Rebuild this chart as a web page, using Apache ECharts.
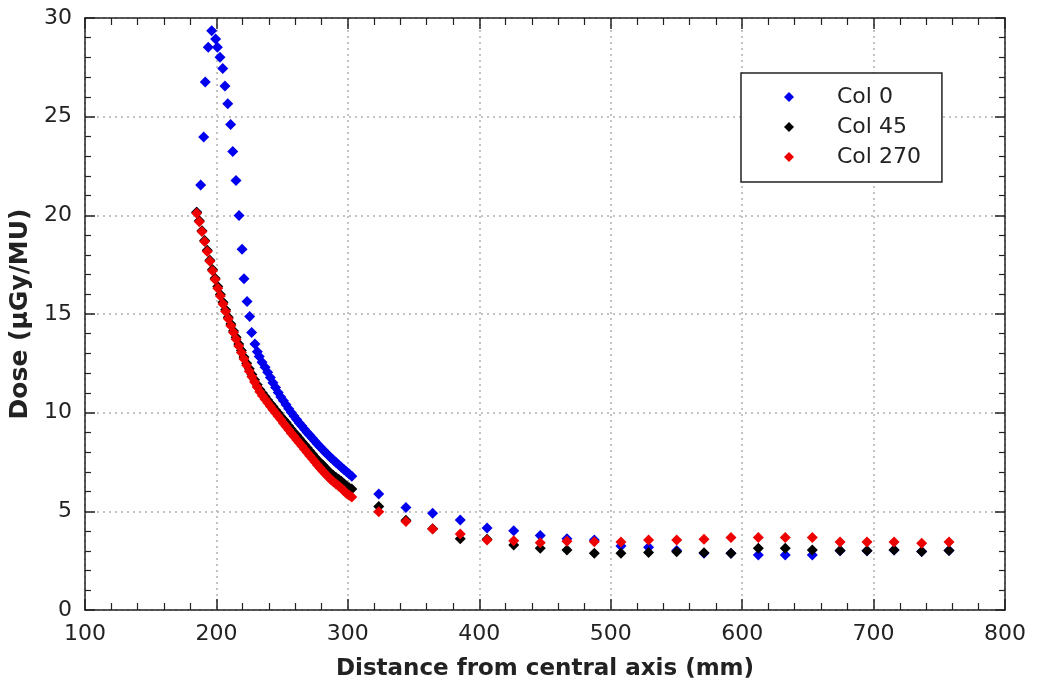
<!DOCTYPE html>
<html>
<head>
<meta charset="utf-8">
<script src="https://cdn.jsdelivr.net/npm/echarts@6/dist/echarts.min.js"></script>
<style>
html,body{margin:0;padding:0;background:#fff;}
#chart{width:1046px;height:691px;}
</style>
</head>
<body>
<div id="chart"></div>
<script>
// ---- data ----
const seriesNames = ['Col 0', 'Col 45', 'Col 270'];

const col0X = [185, 188, 190.3, 191.5, 193.8, 196.4,
  199.4, 200.7, 202.7, 204.8, 206.5, 208.6, 210.8, 212.4, 214.9, 217.2, 219.5, 221, 223.3, 225.3, 226.8, 229.3, 231.1, 232.6, 234.7,
  237, 239, 241, 243, 245, 247, 249, 251, 253, 255, 257, 259, 261, 263, 265, 267, 269, 271, 273, 275, 277, 279, 281, 283, 285, 287, 289, 291, 293, 295, 297, 299, 301, 303,
  323.5, 344.2, 364.5, 385.5, 405.9, 426.2, 446.4, 466.7, 487.5, 507.8, 528.8, 550.2, 571, 591.5, 612.3, 632.8, 653.4, 674.5, 695, 715.6, 736.6, 757.4];
const col0Y = [20.15, 21.54, 23.97, 26.76, 28.52, 29.36,
  28.93, 28.52, 28.01, 27.44, 26.56, 25.65, 24.6, 23.23, 21.76, 19.99, 18.28, 16.79, 15.63, 14.87, 14.06, 13.48, 13.09, 12.84, 12.55,
  12.3, 12.05, 11.78, 11.52, 11.27, 11.02, 10.8, 10.6, 10.4, 10.2, 10.01, 9.83, 9.65, 9.48, 9.32, 9.16, 9.0, 8.85, 8.7, 8.55, 8.4, 8.26, 8.12, 7.98, 7.85, 7.72, 7.6, 7.48, 7.36, 7.24, 7.12, 7.0, 6.89, 6.78,
  5.88, 5.2, 4.9, 4.56, 4.16, 4.02, 3.78, 3.61, 3.55, 3.24, 3.18, 3.02, 2.88, 2.87, 2.79, 2.79, 2.79, 3.0, 3.0, 3.04, 2.96, 3.01];

const col45X = [185, 187, 189, 191, 193, 195, 197, 199, 201, 203, 205, 207, 209, 211, 213, 215, 217, 219, 221, 223, 225, 227, 229, 231, 233, 235, 237, 239, 241, 243, 245, 247, 249, 251, 253, 255, 257, 259, 261, 263, 265, 267, 269, 271, 273, 275, 277, 279, 281, 283, 285, 287, 289, 291, 293, 295, 297, 299, 301, 303,
  323.5, 344.2, 364.5, 385.5, 405.9, 426.2, 446.4, 466.7, 487.5, 507.8, 528.8, 550.2, 571, 591.5, 612.3, 632.8, 653.4, 674.5, 695, 715.6, 736.6, 757.4];
const col45Y = [20.15, 19.72, 19.22, 18.72, 18.23, 17.73, 17.25, 16.81, 16.39, 15.99, 15.59, 15.21, 14.84, 14.49, 14.14, 13.82, 13.48, 13.15, 12.82, 12.5, 12.22, 11.94, 11.67, 11.42, 11.18, 11.0, 10.82, 10.64, 10.47, 10.31, 10.14, 9.98, 9.81, 9.66, 9.5, 9.33, 9.16, 9.0, 8.85, 8.69, 8.53, 8.38, 8.22, 8.06, 7.9, 7.74, 7.59, 7.46, 7.33, 7.19, 7.05, 6.93, 6.82, 6.72, 6.62, 6.53, 6.4, 6.29, 6.19, 6.13,
  5.24, 4.55, 4.12, 3.61, 3.58, 3.29, 3.13, 3.04, 2.87, 2.87, 2.91, 2.95, 2.9, 2.88, 3.13, 3.13, 3.04, 3.01, 3.0, 3.04, 2.96, 3.01];

const col270X = [185, 187, 189, 191, 193, 195, 197, 199, 201, 203, 205, 207, 209, 211, 213, 215, 217, 219, 221, 223, 225, 227, 229, 231, 233, 235, 237, 239, 241, 243, 245, 247, 249, 251, 253, 255, 257, 259, 261, 263, 265, 267, 269, 271, 273, 275, 277, 279, 281, 283, 285, 287, 289, 291, 293, 295, 297, 299, 301, 303,
  323.5, 344.2, 364.5, 385.5, 405.9, 426.2, 446.4, 466.7, 487.5, 507.8, 528.8, 550.2, 571, 591.5, 612.3, 632.8, 653.4, 674.5, 695, 715.6, 736.6, 757.4];
const col270Y = [20.1, 19.68, 19.18, 18.68, 18.17, 17.67, 17.19, 16.75, 16.31, 15.91, 15.51, 15.13, 14.76, 14.41, 14.06, 13.72, 13.38, 13.05, 12.72, 12.4, 12.1, 11.82, 11.55, 11.3, 11.06, 10.86, 10.68, 10.5, 10.33, 10.15, 9.98, 9.82, 9.65, 9.46, 9.3, 9.13, 8.96, 8.8, 8.63, 8.47, 8.31, 8.14, 7.98, 7.82, 7.66, 7.5, 7.33, 7.18, 7.03, 6.89, 6.75, 6.61, 6.5, 6.38, 6.28, 6.17, 6.04, 5.91, 5.81, 5.73,
  4.98, 4.48, 4.1, 3.85, 3.55, 3.51, 3.41, 3.48, 3.46, 3.45, 3.55, 3.55, 3.58, 3.68, 3.67, 3.67, 3.67, 3.45, 3.45, 3.45, 3.38, 3.45];

const xTicks = {min: 100, max: 800, step: 100};
const yTicks = {min: 0, max: 30, step: 5};

// ---- chart ----
function zip(xs, ys) { return xs.map((x, i) => [x, ys[i]]); }
const colors = ['#0000ee', '#000000', '#ee0000'];
const font = 'DejaVu Sans, Verdana, sans-serif';
const axisColor = '#222';

function makeX(pos, main) {
  return {
    type: 'value', position: pos, min: xTicks.min, max: xTicks.max, interval: xTicks.step,
    axisLine: {show: true, onZero: false, lineStyle: {color: axisColor, width: 1.5}},
    axisTick: {show: true, inside: true, length: 11, lineStyle: {color: axisColor, width: 1.5}},
    minorTick: {show: true, splitNumber: 5, length: 7, lineStyle: {color: axisColor, width: 1.2}},
    splitLine: {show: main, lineStyle: {type: [2, 4], color: '#b0b0b0', width: 1.5}},
    minorSplitLine: {show: false},
    axisLabel: {show: main, fontSize: 22, color: '#222', margin: 13, fontFamily: font},
    name: main ? 'Distance from central axis (mm)' : '',
    nameLocation: 'middle', nameGap: 48,
    nameTextStyle: {fontSize: 23, fontWeight: 'bold', color: '#222', fontFamily: font}
  };
}
function makeY(pos, main) {
  return {
    type: 'value', position: pos, min: yTicks.min, max: yTicks.max, interval: yTicks.step,
    axisLine: {show: true, onZero: false, lineStyle: {color: axisColor, width: 1.5}},
    axisTick: {show: true, inside: true, length: 10, lineStyle: {color: axisColor, width: 1.5}},
    minorTick: {show: true, splitNumber: 5, length: 6, lineStyle: {color: axisColor, width: 1.2}},
    splitLine: {show: main, lineStyle: {type: [2, 4], color: '#b0b0b0', width: 1.5}},
    minorSplitLine: {show: false},
    axisLabel: {show: main, fontSize: 22, color: '#222', margin: 13, fontFamily: font},
    name: main ? 'Dose (µGy/MU)' : '',
    nameLocation: 'middle', nameGap: 47,
    nameTextStyle: {fontSize: 25, fontWeight: 'bold', color: '#222', fontFamily: font}
  };
}

const chart = echarts.init(document.getElementById('chart'), null, {renderer: 'canvas'});
chart.setOption({
  animation: false,
  backgroundColor: '#fff',
  grid: {left: 85, right: 41, top: 18, bottom: 81, containLabel: false},
  xAxis: [makeX('bottom', true), makeX('top', false)],
  yAxis: [makeY('left', true), makeY('right', false)],
  legend: {
    orient: 'vertical', left: 741, top: 73,
    backgroundColor: '#fff', borderColor: '#222', borderWidth: 1.5,
    padding: [12, 21, 13, 43],
    itemWidth: 10, itemHeight: 10, itemGap: 6,
    icon: 'diamond',
    textStyle: {fontSize: 22, lineHeight: 24, color: '#222', fontFamily: font, padding: [0, 0, 0, 38]},
    data: seriesNames
  },
  series: [
    {name: seriesNames[0], type: 'scatter', symbol: 'diamond', symbolSize: 11, xAxisIndex: 0, yAxisIndex: 0,
     itemStyle: {color: colors[0], opacity: 1}, data: zip(col0X, col0Y)},
    {name: seriesNames[1], type: 'scatter', symbol: 'diamond', symbolSize: 11, xAxisIndex: 0, yAxisIndex: 0,
     itemStyle: {color: colors[1], opacity: 1}, data: zip(col45X, col45Y)},
    {name: seriesNames[2], type: 'scatter', symbol: 'diamond', symbolSize: 11, xAxisIndex: 0, yAxisIndex: 0,
     itemStyle: {color: colors[2], opacity: 1}, data: zip(col270X, col270Y)}
  ]
});
</script>
</body>
</html>
